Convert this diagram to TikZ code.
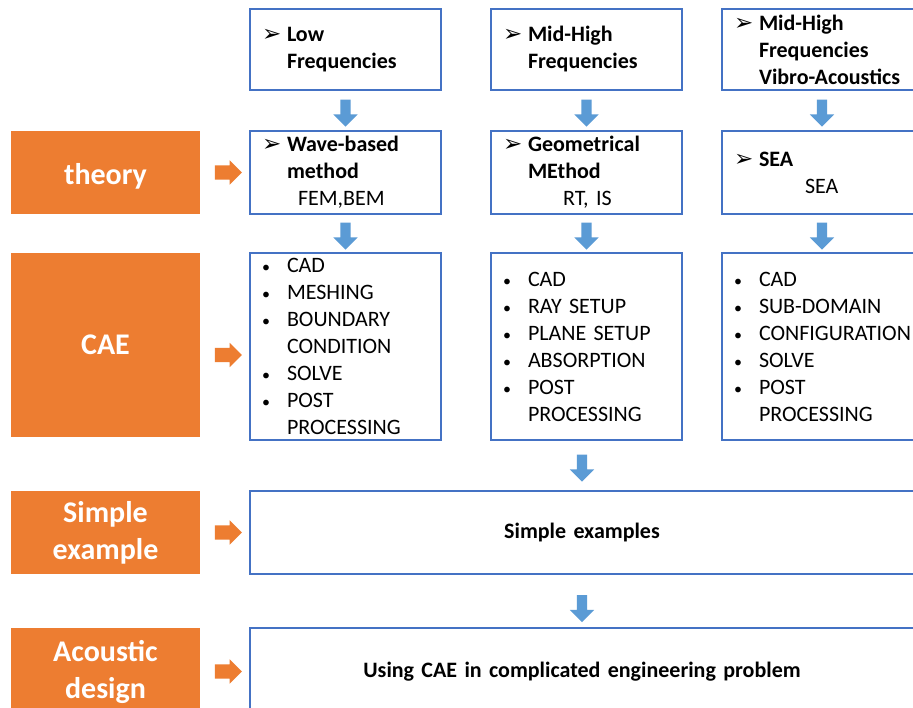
\documentclass[tikz,border=0pt]{standalone}
\usepackage{fontspec}
\setmainfont{Carlito}
\newfontfamily\dingfont{DejaVu Sans}
\usetikzlibrary{shapes.arrows,calc}
\definecolor{catorange}{HTML}{ED7D31}
\definecolor{boxblue}{HTML}{4472C4}
\definecolor{arrblue}{HTML}{5B9BD5}
\frenchspacing
\newcommand{\tip}{\makebox[25pt][l]{\dingfont\fontsize{23}{27}\selectfont ➢}}% arrowhead bullet
\newcommand{\bul}{\makebox[25pt][l]{\fontsize{16}{27}\selectfont •}}% list bullet
\newcommand{\ind}{\hspace*{25pt}}
\tikzset{
cat_box/.style = {rectangle, fill=catorange, text=white, align=center, inner sep=0pt,
minimum width=189pt, font=\fontsize{30}{37}\selectfont\bfseries},% left column, orange
inf_box/.style = {rectangle, draw=boxblue, line width=1.6pt, fill=white, align=left,
inner xsep=12pt, inner ysep=0pt, font=\fontsize{22}{27}\selectfont},% blue frame
arr_d/.style = {single arrow, fill=arrblue, inner xsep=0pt, inner ysep=5pt, minimum height=27pt,
single arrow head extend=7pt, rotate=-90},% down arrow
arr_r/.style = {single arrow, fill=catorange, inner xsep=0pt, inner ysep=7pt, minimum height=27pt,
single arrow head extend=5pt}% right arrow
}

\begin{document}
\begin{tikzpicture}[x=1pt,y=-1pt]
  \path [use as bounding box, clip] (0,0) rectangle (913,707);
  \fill [white] (0,0) rectangle (913,707);
  % left column
  \node [cat_box, minimum height=83pt] (theory) at (105.5,172.5) {\raisebox{-4pt}[\height][\depth]{theory}};
  \node [cat_box, minimum height=184pt] (cae) at (105.5,345) {CAE};
  \node [cat_box, minimum height=83pt] (simple) at (105.5,532.5) {Simple\\example};
  \node [cat_box, minimum height=87pt] (acoustic) at (105.5,671.5) {Acoustic\\design};
  % frequency ranges
  \node [inf_box, text width=167pt, minimum height=81pt] (lowf) at (345.5,49.5)
    {\tip\textbf{Low}\\\ind\textbf{Frequencies}};
  \node [inf_box, text width=167pt, minimum height=81pt] (midf) at (586.5,49.5)
    {\tip\textbf{Mid-High}\\\ind\textbf{Frequencies}};
  \node [inf_box, text width=176pt, minimum height=81pt] (vibf) at (822,49.5)
    {\tip\textbf{Mid-High}\\\ind\textbf{Frequencies}\\\ind\textbf{Vibro-Acoustics}};
  % theory
  \node [inf_box, text width=167pt, minimum height=83pt] (wave) at (345.5,172.5)
    {\tip\textbf{Wave-based}\\\ind\textbf{method}\\\hspace*{36pt}FEM,BEM};
  \node [inf_box, text width=167pt, minimum height=83pt] (geom) at (586.5,172.5)
    {\tip\textbf{Geometrical}\\\ind\textbf{MEthod}\\\hspace*{60pt}RT, IS};
  \node [inf_box, text width=176pt, minimum height=83pt] (sea) at (822,172.5)
    {\tip\textbf{SEA}\\\hspace*{71pt}SEA};
  % CAE steps
  \node [inf_box, text width=167pt, minimum height=187pt] (wavecae) at (345.5,346.5)
    {\bul CAD\\\bul MESHING\\\bul BOUNDARY\\\ind CONDITION\\\bul SOLVE\\\bul POST\\\ind PROCESSING};
  \node [inf_box, text width=167pt, minimum height=187pt] (geomcae) at (586.5,346.5)
    {\bul CAD\\\bul RAY SETUP\\\bul PLANE SETUP\\\bul ABSORPTION\\\bul POST\\\ind PROCESSING};
  \node [inf_box, text width=176pt, minimum height=187pt] (seacae) at (822,346.5)
    {\bul CAD\\\bul SUB-DOMAIN\\\bul CONFIGURATION\\\bul SOLVE\\\bul POST\\\ind PROCESSING};
  % wide boxes
  \node [inf_box, align=center, text width=640pt, minimum height=83pt] (simplebox) at (582,532.5)
    {\textbf{Simple examples}};
  \node [inf_box, align=center, text width=640pt, minimum height=87pt] (usebox) at (582,671.5)
    {\textbf{Using CAE in complicated engineering problem}};
  % arrows
  \foreach \u/\v in {lowf/wave, midf/geom, vibf/sea, wave/wavecae, geom/geomcae, sea/seacae}
    \node [arr_d] (d-\u) at ($(\u.south)!.5!(\v.north)$) {};
  \node [arr_d] (d-geomcae) at ($(geomcae.south -| simplebox.north)!.5!(simplebox.north)$) {};
  \node [yshift=-5pt, arr_d] (d-simplebox) at ($(simplebox.south)!.5!(usebox.north)$) {};
  \foreach \c/\b in {theory/wave, simple/simplebox, acoustic/usebox}
    \node [arr_r] (r-\c) at ($(\c.east)!.5!(\c.east -| \b.west)$) {};
  \node [arr_r, yshift=-10pt] (r-cae) at ($(cae.east)!.5!(cae.east -| wavecae.west)$) {};
\end{tikzpicture}
\end{document}
